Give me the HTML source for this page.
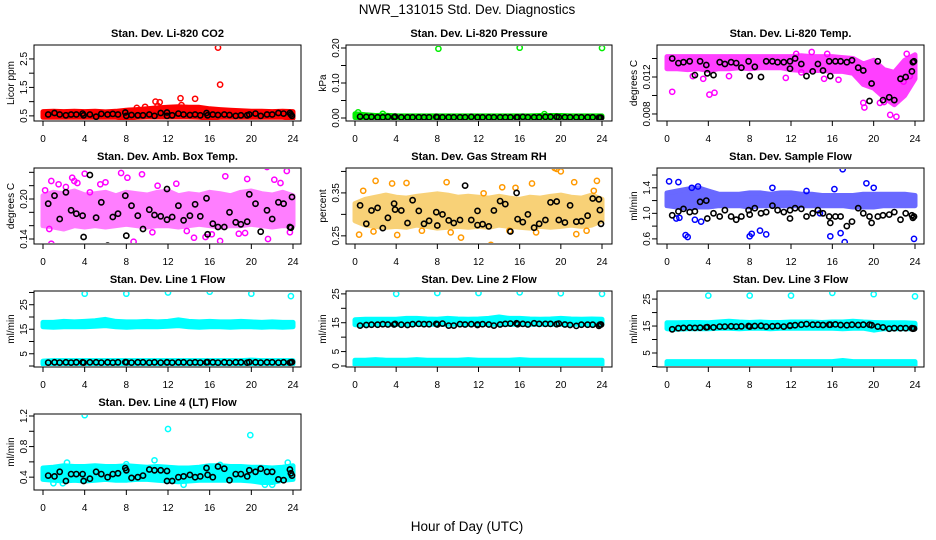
<!DOCTYPE html>
<html><head><meta charset="utf-8"><title>NWR_131015 Std. Dev. Diagnostics</title>
<style>
html,body{margin:0;padding:0;background:#fff;}
svg{display:block;font-family:"Liberation Sans",Arial,sans-serif;}
</style></head>
<body>
<svg id="chart" width="936" height="540" viewBox="0 0 936 540" xmlns="http://www.w3.org/2000/svg">
<rect x="0" y="0" width="936" height="540" fill="#fff"/>
<text x="467" y="14" text-anchor="middle" font-size="13.5">NWR_131015  Std. Dev. Diagnostics</text>
<text x="467" y="531" text-anchor="middle" font-size="13.5">Hour of Day (UTC)</text>
</svg>
<script>
// ---------- shared data ----------
const xTicks = [0,4,8,12,16,20,24];
const bandHours = [0,1,2,3,4,5,6,7,8,9,10,11,12,13,14,15,16,17,18,19,20,21,22,23,24];
const blackHours = [0.5,1.1,1.6,2.2,2.7,3.2,3.8,3.9,4.5,5.1,5.6,6.2,6.7,7.2,7.9,8.0,8.5,9.1,9.6,10.2,10.7,11.3,11.9,11.9,12.4,13.0,13.5,14.1,14.6,15.1,15.7,15.8,16.3,16.8,17.4,17.9,18.5,19.0,19.6,19.8,20.4,20.9,21.5,22.0,22.6,23.1,23.7,23.8,23.9];

// P1 CO2
const co2Lo = [.45,.45,.45,.45,.45,.45,.45,.45,.42,.45,.46,.46,.46,.46,.46,.45,.42,.45,.45,.45,.45,.45,.45,.45,.42];
const co2Hi = [.65,.66,.65,.66,.65,.66,.64,.66,.7,.72,.75,.78,.8,.82,.8,.8,.75,.72,.7,.68,.66,.66,.65,.66,.65];
const co2OutX = [16.8,17.0,10.8,11.2,13.2,14.6,9.0,9.8,8.0,15.9,23.8,11.0,13.3];
const co2OutY = [2.9,1.6,1.0,0.98,1.12,1.1,0.78,0.82,0.4,0.4,0.4,0.85,0.88];
const co2Black = [0.55,0.6,0.55,0.52,0.55,0.55,0.58,0.52,0.55,0.47,0.57,0.55,0.57,0.55,0.62,0.5,0.53,0.52,0.52,0.55,0.5,0.6,0.62,0.5,0.52,0.58,0.55,0.53,0.55,0.52,0.6,0.52,0.55,0.53,0.55,0.53,0.5,0.52,0.52,0.55,0.58,0.5,0.55,0.55,0.6,0.58,0.6,0.55,0.5];

// P2 Pressure
const presLo = [.001,.0,.0,.0,.0,.0,.0,.0,.0,.0,.0,.0,.0,.0,.0,.0,.0,.0,.0,.0,.0,.0,.0,.0,.0];
const presHi = [.012,.009,.007,.008,.006,.006,.006,.006,.006,.006,.006,.006,.006,.006,.006,.006,.006,.006,.007,.007,.007,.006,.006,.006,.006];
const presOutX = [8.1,16.0,24.0,0.3,2.7,18.4];
const presOutY = [0.198,0.201,0.2,0.016,0.012,0.011];
const presBlack = [.004,.003,.003,.002,.002,.003,.002,.004,.002,.002,.002,.002,.002,.002,.003,.002,.002,.002,.002,.002,.002,.003,.002,.002,.002,.002,.002,.002,.002,.002,.002,.002,.003,.002,.002,.002,.003,.003,.003,.002,.002,.002,.002,.002,.002,.002,.001,.001,.001];

// P3 Li-820 Temp
const tempLo = [.0129,.0129,.0128,.0129,.0127,.0129,.0129,.0130,.0129,.0130,.0130,.0130,.0128,.0127,.0127,.0127,.0126,.0126,.0124,.0112,.0108,.0098,.0090,.0100,.0118];
const tempHi = [.0142,.0142,.0142,.0142,.0142,.0142,.0142,.0142,.0142,.0142,.0142,.0142,.0142,.0143,.0142,.0142,.0142,.0141,.0140,.0134,.0138,.0128,.0125,.0138,.0144];
const tempOutX = [0.5,4.1,4.6,2.5,6.0,8.0,11.5,13.0,15.2,16.6,19.0,19.1,20.6,21.6,22.2,21.0,22.9,23.5,12.5,14.0,15.5,3.5,23.2];
const tempOutY = [.0104,.0101,.0103,.0121,.0121,.0121,.0119,.0125,.0118,.0117,.0092,.0087,.0092,.0079,.0077,.0093,.0115,.0121,.0145,.0147,.0145,.0118,.0145];
const tempBlack = [.0140,.0135,.0136,.0137,.0122,.0137,.0133,.0124,.0122,.0136,.0134,.0136,.0135,.0130,.0137,.0121,.0131,.0120,.0137,.0137,.0136,.0136,.0137,.0129,.0140,.0134,.0121,.0126,.0134,.0127,.0137,.0121,.0137,.0137,.0136,.0138,.0130,.0127,.0094,.0113,.0137,.0095,.0098,.0095,.0118,.0120,.0126,.0136,.0137];

// P4 Amb Box Temp
const ambLo = [.160,.158,.155,.160,.158,.160,.158,.160,.162,.160,.158,.160,.160,.158,.160,.162,.160,.158,.160,.160,.162,.160,.158,.160,.160];
const ambHi = [.205,.210,.208,.212,.206,.208,.210,.205,.210,.208,.206,.210,.212,.205,.208,.206,.210,.208,.205,.210,.212,.208,.206,.210,.205];
const ambOutX = [0.2,0.8,1.5,2.8,3.3,4.0,0.6,0.8,3.0,5.5,6.0,7.5,8.1,9.5,11.0,12.8,14.5,16.2,17.5,18.8,19.4,19.6,21.5,22.2,22.8,23.4,23.7,10.5,13.8,17.0,21.6,8.7,2.2,15.6,4.5];
const ambOutY = [.213,.227,.222,.232,.224,.238,.155,.133,.227,.222,.225,.239,.232,.237,.220,.223,.142,.147,.234,.148,.149,.230,.248,.229,.224,.242,.150,.150,.152,.137,.140,.136,.218,.143,.210];
const ambBlack = [.193,.205,.170,.210,.183,.178,.175,.143,.236,.172,.195,.130,.173,.178,.205,.145,.190,.175,.155,.184,.176,.174,.215,.169,.173,.190,.168,.175,.192,.174,.201,.147,.163,.158,.158,.180,.165,.162,.166,.207,.193,.151,.183,.170,.195,.193,.158,.157,.203];

// P5 Gas Stream RH
const rhLo = [.285,.275,.272,.270,.272,.270,.275,.272,.268,.270,.272,.270,.272,.270,.275,.272,.270,.268,.272,.270,.272,.275,.272,.275,.285];
const rhHi = [.325,.335,.340,.345,.340,.338,.342,.345,.348,.345,.340,.342,.340,.338,.342,.338,.335,.340,.338,.342,.345,.340,.338,.345,.335];
const rhOutX = [0.4,0.8,2.0,3.6,4.1,5.0,8.9,10.3,12.5,13.2,14.3,15.6,17.2,17.6,19.4,19.6,20.0,21.3,21.5,23.5,23.2,1.8,6.5,9.3,15.0,22.5];
const rhOutY = [.253,.355,.378,.372,.252,.373,.375,.246,.349,.229,.363,.362,.372,.258,.408,.406,.400,.375,.254,.378,.355,.260,.262,.258,.262,.262];
const rhBlack = [.321,.278,.309,.315,.268,.292,.325,.311,.309,.280,.333,.308,.278,.285,.305,.274,.300,.286,.280,.287,.367,.287,.308,.275,.277,.272,.309,.331,.324,.260,.350,.289,.282,.300,.269,.278,.287,.328,.330,.287,.281,.321,.283,.284,.297,.337,.335,.310,.278];

// P6 Sample Flow
const sfLo = [1.12,1.10,1.08,1.10,1.10,1.12,1.12,1.12,1.10,1.12,1.12,1.12,1.12,1.12,1.12,1.12,1.12,1.12,1.10,1.10,1.10,1.12,1.12,1.12,1.12];
const sfHi = [1.32,1.35,1.38,1.40,1.35,1.30,1.30,1.30,1.32,1.32,1.30,1.32,1.32,1.30,1.30,1.28,1.28,1.28,1.28,1.30,1.30,1.30,1.30,1.30,1.28];
const sfOutX = [0.2,1.1,1.8,2.0,0.9,1.2,3.3,2.7,8.0,8.2,9.0,9.6,15.8,16.8,17.2,17.0,19.3,20.0,23.9,3.0,2.4,13.5,16.2,10.2,14.8];
const sfOutY = [1.50,1.49,0.66,0.63,0.92,0.93,0.87,0.90,0.64,0.68,0.73,0.67,0.64,0.69,0.55,1.69,1.47,1.40,0.60,1.42,1.40,1.35,1.38,1.40,1.00];
const sfBlack = [.97,1.03,1.07,1.02,1.03,1.18,1.2,.92,1.0,.95,1.05,.95,.9,.95,1.05,.98,1.08,1.0,1.02,1.12,1.05,1.02,1.05,.92,1.08,1.07,.95,1.0,1.05,1.0,.95,.85,.95,.95,.8,.87,1.08,1.0,.95,.85,.95,.97,.98,1.02,.9,1.0,.97,.93,.95];

// P7 Line 1 Flow
const l1Lo = [16.0,15.8,16.0,16.0,16.0,16.2,16.5,16.0,15.8,16.0,16.0,16.0,16.2,16.5,16.0,15.8,16.0,16.0,15.8,16.0,16.0,15.8,16.0,15.8,16.0];
const l1Hi = [17.8,17.8,18.2,18.0,18.2,18.5,19.0,18.2,18.0,18.0,18.2,18.0,18.2,18.8,18.2,18.0,18.2,18.0,18.0,18.2,18.0,17.8,18.0,17.8,17.8];
const l1Lo2 = [0.8,0.8,0.8,0.8,0.8,0.8,0.8,0.8,0.8,0.8,0.8,0.8,0.8,0.8,0.8,0.8,0.8,0.8,0.8,0.8,0.8,0.8,0.8,0.8,0.8];
const l1Hi2 = [2.0,2.2,2.2,2.2,2.2,2.2,2.2,2.2,2.2,2.2,2.2,2.2,2.2,2.2,2.2,2.2,2.2,2.2,2.2,2.2,2.4,2.2,2.2,2.2,2.2];
const l1OutX = [4.0,8.0,12.0,16.0,20.0,23.8];
const l1OutY = [29.5,29.5,30.0,30.3,29.5,28.5];
const l1Black = [1.4,1.5,1.4,1.5,1.4,1.5,1.5,1.4,1.5,1.5,1.4,1.5,1.4,1.5,1.6,1.5,1.4,1.5,1.5,1.4,1.5,1.4,1.5,1.5,1.4,1.5,1.5,1.4,1.5,1.4,1.5,1.6,1.5,1.4,1.5,1.4,1.5,1.5,1.4,1.6,1.5,1.4,1.5,1.5,1.4,1.5,1.4,1.5,1.6];

// P8 Line 2 Flow
const l2Lo = [14.3,14.3,14.5,14.5,14.5,14.5,14.5,14.5,14.5,14.5,14.5,14.5,14.5,14.5,14.5,14.5,14.5,14.5,14.5,14.5,14.5,14.5,14.5,14.5,14.5];
const l2Hi = [16.0,16.2,16.2,16.2,16.2,16.5,16.5,16.3,16.2,16.5,16.3,16.2,16.3,16.5,17.0,16.5,16.5,16.3,16.2,16.3,16.5,16.3,16.2,16.3,16.2];
const l2Lo2 = [0.4,0.4,0.4,0.4,0.4,0.4,0.4,0.4,0.4,0.4,0.4,0.4,0.4,0.4,0.4,0.4,0.4,0.4,0.4,0.4,0.4,0.4,0.4,0.4,0.4];
const l2Hi2 = [2.0,2.0,2.2,2.0,2.0,2.0,2.2,2.0,2.0,2.0,2.0,2.2,2.0,2.0,2.0,2.0,2.2,2.0,2.0,2.0,2.0,2.0,2.0,2.0,2.0];
const l2OutX = [4.0,8.0,12.0,16.0,20.0,24.0];
const l2OutY = [25.0,25.3,25.3,25.5,25.2,25.0];
const l2Black = [14.0,14.2,14.3,14.3,14.5,14.4,14.4,14.6,14.3,14.2,14.5,14.6,14.5,14.5,14.6,14.4,14.7,14.0,14.0,14.5,14.4,14.5,14.2,14.4,14.5,14.4,14.0,14.4,14.6,14.7,14.8,14.5,14.6,14.4,14.8,14.6,14.6,14.6,14.5,14.7,14.4,14.2,13.9,14.3,14.3,14.3,13.9,14.3,14.4];

// P9 Line 3 Flow
const l3Lo = [14.0,13.8,14.0,14.0,14.0,14.2,14.2,14.0,14.2,14.2,14.0,14.2,14.2,14.2,14.2,14.2,14.2,14.0,14.2,14.2,13.5,14.0,14.0,14.0,14.0];
const l3Hi = [16.2,16.2,16.3,16.3,16.2,16.5,16.8,16.5,16.3,16.5,16.3,16.3,16.5,16.5,16.5,16.3,16.5,16.5,16.8,16.5,16.3,16.2,16.2,16.2,16.0];
const l3Lo2 = [0.2,0.2,0.2,0.2,0.2,0.2,0.2,0.2,0.2,0.2,0.2,0.2,0.2,0.2,0.2,0.2,0.2,0.2,0.2,0.2,0.2,0.2,0.2,0.2,0.2];
const l3Hi2 = [1.8,1.8,1.8,1.8,1.8,1.8,1.8,1.8,1.8,1.8,1.8,1.8,1.8,1.8,1.8,1.8,1.8,2.2,1.8,1.8,1.8,1.8,1.8,1.8,1.8];
const l3OutX = [4.0,8.0,12.0,16.0,20.0,24.0];
const l3OutY = [26.3,26.3,26.3,27.3,26.8,26.0];
const l3Black = [13.8,14.2,14.3,14.4,14.3,14.4,14.5,14.6,14.5,14.8,14.8,14.9,14.8,14.9,15.0,14.8,15.0,15.1,14.8,14.9,15.0,14.8,15.1,15.2,15.3,15.5,15.7,15.5,15.5,15.4,15.5,15.5,15.6,15.4,15.3,15.5,15.4,15.5,15.5,15.3,14.8,14.5,14.0,14.2,14.2,14.2,14.2,14.0,14.1];

// P10 Line 4 (LT) Flow
const l4Lo = [.37,.36,.35,.36,.35,.36,.37,.36,.36,.37,.37,.36,.35,.34,.35,.36,.36,.36,.36,.36,.35,.33,.33,.36,.37];
const l4Hi = [.52,.53,.55,.54,.54,.55,.54,.54,.55,.54,.53,.54,.53,.52,.52,.53,.55,.55,.54,.54,.53,.53,.52,.53,.55];
const l4OutX = [4.0,12.0,19.9,10.7,23.5,2.3,21.3,22.0,1.0,1.9,13.5,17.0,8.0];
const l4OutY = [1.21,1.03,0.95,0.62,0.59,0.59,0.30,0.30,0.32,0.32,0.30,0.56,0.57];
const l4Black = [.42,.41,.47,.35,.44,.44,.44,.35,.38,.47,.44,.40,.44,.45,.52,.49,.39,.40,.42,.50,.49,.49,.48,.35,.35,.40,.41,.43,.40,.41,.52,.43,.40,.54,.51,.36,.44,.44,.41,.49,.47,.51,.47,.47,.37,.36,.50,.45,.42];

// ---------- layout ----------
const colGeom = [{L:34,R:301,x0:43,x24:293},{L:346,R:612,x0:355,x24:602},{L:657,R:924,x0:667,x24:915}];
const rowTop = [45,168,291,414];
const boxH = 76;
const NS = 'http://www.w3.org/2000/svg';
const svg = document.getElementById('chart');

function mk(tag, attrs, parent){
  const e = document.createElementNS(NS, tag);
  for (const k in attrs) e.setAttribute(k, attrs[k]);
  (parent||svg).appendChild(e);
  return e;
}

const panels = [
 {key:'co2',col:0,row:0,title:'Stan. Dev. Li-820 CO2',ylab:'Licor ppm',ymin:0.32,ymax:2.99,yt:[0.5,1,1.5,2,2.5],yl:['0.5','','1.5','','2.5'],color:'#ff0000',fill:'#ff0000',op:1,lo:co2Lo,hi:co2Hi,ox:co2OutX,oy:co2OutY,bk:co2Black},
 {key:'pressure',col:1,row:0,title:'Stan. Dev. Li-820 Pressure',ylab:'kPa',ymin:-0.0086,ymax:0.2086,yt:[0,0.05,0.1,0.15,0.2],yl:['0.00','','0.10','','0.20'],color:'#00ee00',fill:'#00ee00',op:1,lo:presLo,hi:presHi,ox:presOutX,oy:presOutY,bk:presBlack},
 {key:'li820-temp',col:2,row:0,title:'Stan. Dev. Li-820 Temp.',ylab:'degrees C',ymin:0.00724,ymax:0.01546,yt:[0.008,0.010,0.012,0.014],yl:['0.008','','0.012',''],color:'#ff00ff',fill:'#ff00ff',op:0.75,lo:tempLo,hi:tempHi,ox:tempOutX,oy:tempOutY,bk:tempBlack},
 {key:'amb-box-temp',col:0,row:1,title:'Stan. Dev. Amb. Box Temp.',ylab:'degrees C',ymin:0.1325,ymax:0.2465,yt:[0.14,0.16,0.18,0.20,0.22,0.24],yl:['0.14','','','0.20','',''],color:'#ff00ff',fill:'#ff00ff',op:0.5,lo:ambLo,hi:ambHi,ox:ambOutX,oy:ambOutY,bk:ambBlack},
 {key:'gas-rh',col:1,row:1,title:'Stan. Dev. Gas Stream RH',ylab:'percent',ymin:0.231,ymax:0.408,yt:[0.25,0.30,0.35,0.40],yl:['0.25','','0.35',''],color:'#ff9900',fill:'#f5b41e',op:0.6,lo:rhLo,hi:rhHi,ox:rhOutX,oy:rhOutY,bk:rhBlack},
 {key:'sample-flow',col:2,row:1,title:'Stan. Dev. Sample Flow',ylab:'ml/min',ymin:0.52,ymax:1.71,yt:[0.6,0.8,1.0,1.2,1.4,1.6],yl:['0.6','','1.0','','1.4',''],color:'#0000ff',fill:'#1a1aff',op:0.65,lo:sfLo,hi:sfHi,ox:sfOutX,oy:sfOutY,bk:sfBlack},
 {key:'line1-flow',col:0,row:2,title:'Stan. Dev. Line 1 Flow',ylab:'ml/min',ymin:-0.4,ymax:30.6,yt:[0,5,10,15,20,25,30],yl:['','5','','15','','25',''],color:'#00ffff',fill:'#00ffff',op:1,lo:l1Lo,hi:l1Hi,lo2:l1Lo2,hi2:l1Hi2,ox:l1OutX,oy:l1OutY,bk:l1Black},
 {key:'line2-flow',col:1,row:2,title:'Stan. Dev. Line 2 Flow',ylab:'ml/min',ymin:-0.35,ymax:26.0,yt:[0,5,10,15,20,25],yl:['0','5','','15','','25'],color:'#00ffff',fill:'#00ffff',op:1,lo:l2Lo,hi:l2Hi,lo2:l2Lo2,hi2:l2Hi2,ox:l2OutX,oy:l2OutY,bk:l2Black},
 {key:'line3-flow',col:2,row:2,title:'Stan. Dev. Line 3 Flow',ylab:'ml/min',ymin:-0.2,ymax:28.0,yt:[0,5,10,15,20,25],yl:['','5','','15','','25'],color:'#00ffff',fill:'#00ffff',op:1,lo:l3Lo,hi:l3Hi,lo2:l3Lo2,hi2:l3Hi2,ox:l3OutX,oy:l3OutY,bk:l3Black},
 {key:'line4-flow',col:0,row:3,title:'Stan. Dev. Line 4 (LT) Flow',ylab:'ml/min',ymin:0.232,ymax:1.226,yt:[0.4,0.6,0.8,1.0,1.2],yl:['0.4','','0.8','','1.2'],color:'#00ffff',fill:'#00ffff',op:1,lo:l4Lo,hi:l4Hi,ox:l4OutX,oy:l4OutY,bk:l4Black}
];

function drawBand(g, p, xs, ys, lo, hi){
  let pts = [];
  for (let i=0;i<bandHours.length;i++) pts.push(xs(bandHours[i]).toFixed(1)+','+ys(hi[i]).toFixed(1));
  for (let i=bandHours.length-1;i>=0;i--) pts.push(xs(bandHours[i]).toFixed(1)+','+ys(lo[i]).toFixed(1));
  const band = mk('polygon',{points:pts.join(' '),fill:p.fill,stroke:p.fill,'stroke-width':5,'stroke-linejoin':'round',opacity:p.op},g);
  
  
}

panels.forEach(p=>{
  const c = colGeom[p.col], T = rowTop[p.row], B = T+boxH;
  const xs = h => c.x0 + (c.x24-c.x0)*h/24;
  const ys = v => B - (v-p.ymin)/(p.ymax-p.ymin)*boxH;
  const g = mk('g',{});
  
  

  const title = mk('text',{x:(c.L+c.R)/2,y:T-8,'text-anchor':'middle','font-size':11,'font-weight':'bold'},g);
  title.textContent = p.title;
  
  

  const yl = mk('text',{x:0,y:0,'text-anchor':'middle','font-size':10,transform:'translate('+(c.L-20)+','+(T+boxH/2)+') rotate(-90)'},g);
  yl.textContent = p.ylab;
  
  

  const cid = 'clip-'+p.key;
  const cp = mk('clipPath',{id:cid},g);
  mk('rect',{x:c.L+1,y:T+1,width:c.R-c.L-2,height:boxH-2},cp);
  const plot = mk('g',{'clip-path':'url(#'+cid+')'},g);
  
  

  drawBand(plot,p,xs,ys,p.lo,p.hi);
  if (p.lo2) drawBand(plot,p,xs,ys,p.lo2,p.hi2);

  for (let i=0;i<p.ox.length;i++){
    const o = mk('circle',{cx:xs(p.ox[i]).toFixed(1),cy:ys(p.oy[i]).toFixed(1),r:2.6,fill:'none',stroke:p.color,'stroke-width':1.5},plot);
    
    
  }
  for (let i=0;i<blackHours.length;i++){
    const b = mk('circle',{cx:xs(blackHours[i]).toFixed(1),cy:ys(p.bk[i]).toFixed(1),r:2.6,fill:'none',stroke:'#000','stroke-width':1.6},plot);
    
    
  }

  const box = mk('rect',{x:c.L,y:T,width:c.R-c.L,height:boxH,fill:'none',stroke:'#000','stroke-width':1},g);
  
  

  const xa = mk('g',{},g);
  
  
  mk('line',{x1:xs(0),x2:xs(24),y1:B,y2:B,stroke:'#000'},xa);
  xTicks.forEach(t=>{
    mk('line',{x1:xs(t),x2:xs(t),y1:B,y2:B+5,stroke:'#000'},xa);
    const tl = mk('text',{x:xs(t),y:B+21,'text-anchor':'middle','font-size':10},xa);
    tl.textContent = t;
    
    
  });
  const ya = mk('g',{},g);
  
  
  mk('line',{x1:c.L,x2:c.L,y1:ys(p.yt[0]),y2:ys(p.yt[p.yt.length-1]),stroke:'#000'},ya);
  p.yt.forEach((t,i)=>{
    const yy = ys(t);
    mk('line',{x1:c.L-5,x2:c.L,y1:yy,y2:yy,stroke:'#000'},ya);
    if (p.yl[i]){
      const tl = mk('text',{x:0,y:0,'text-anchor':'middle','font-size':10,transform:'translate('+(c.L-7)+','+yy.toFixed(1)+') rotate(-90)'},ya);
      tl.textContent = p.yl[i];
      
      
    }
  });
});
</script>
</body></html>
